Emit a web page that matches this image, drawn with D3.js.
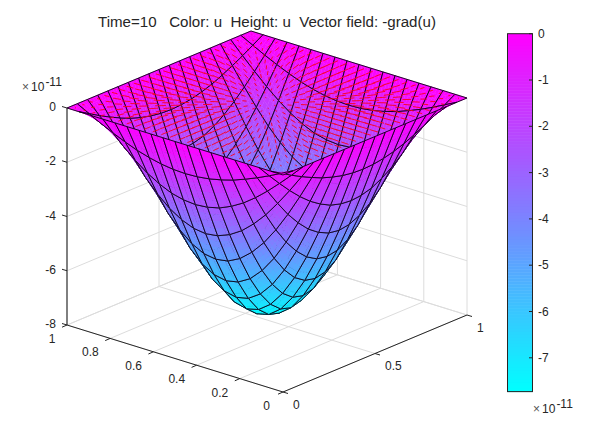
<!DOCTYPE html>
<html><head><meta charset="utf-8">
<script src="https://cdn.jsdelivr.net/npm/d3@7"></script>
<style>html,body{margin:0;padding:0;background:#fff}svg{display:block}text{font-family:"Liberation Sans",Arial,sans-serif;fill:#262626;white-space:pre}</style>
</head><body><svg id="c" width="609" height="440"></svg>
<script>
const titleText = "Time=10   Color: u  Height: u  Vector field: -grad(u)";
const xTicks = [0, 0.5, 1];
const yTicks = [0, 0.2, 0.4, 0.6, 0.8, 1];
const zTicks = [0, -2, -4, -6, -8];
const barTicks = [0, -1, -2, -3, -4, -5, -6, -7];
const uMin = -7.73;
const row0 = [0,0,0,0,0,0,0,0,0,0,0,0,0,0,0,0,0,0,0];
const row1 = [0,-.23,-.46,-.67,-.86,-1.03,-1.16,-1.26,-1.32,-1.34,-1.32,-1.26,-1.16,-1.03,-.86,-.67,-.46,-.23,0];
const row2 = [0,-.46,-.90,-1.32,-1.70,-2.03,-2.29,-2.49,-2.60,-2.64,-2.60,-2.49,-2.29,-2.03,-1.70,-1.32,-.90,-.46,0];
const row3 = [0,-.67,-1.32,-1.93,-2.49,-2.96,-3.35,-3.63,-3.81,-3.87,-3.81,-3.63,-3.35,-2.96,-2.49,-1.93,-1.32,-.67,0];
const row4 = [0,-.86,-1.70,-2.49,-3.20,-3.81,-4.30,-4.67,-4.90,-4.97,-4.90,-4.67,-4.30,-3.81,-3.20,-2.49,-1.70,-.86,0];
const row5 = [0,-1.03,-2.03,-2.96,-3.81,-4.54,-5.13,-5.57,-5.83,-5.92,-5.83,-5.57,-5.13,-4.54,-3.81,-2.96,-2.03,-1.03,0];
const row6 = [0,-1.16,-2.29,-3.35,-4.30,-5.13,-5.80,-6.29,-6.59,-6.69,-6.59,-6.29,-5.80,-5.13,-4.30,-3.35,-2.29,-1.16,0];
const row7 = [0,-1.26,-2.49,-3.63,-4.67,-5.57,-6.29,-6.83,-7.16,-7.27,-7.16,-6.83,-6.29,-5.57,-4.67,-3.63,-2.49,-1.26,0];
const row8 = [0,-1.32,-2.60,-3.81,-4.90,-5.83,-6.59,-7.16,-7.50,-7.61,-7.50,-7.16,-6.59,-5.83,-4.90,-3.81,-2.60,-1.32,0];
const row9 = [0,-1.34,-2.64,-3.87,-4.97,-5.92,-6.69,-7.27,-7.61,-7.73,-7.61,-7.27,-6.69,-5.92,-4.97,-3.87,-2.64,-1.34,0];
const uGrid = [row0,row1,row2,row3,row4,row5,row6,row7,row8,row9,row8,row7,row6,row5,row4,row3,row2,row1,row0];
const n = uGrid.length-1;

const svg = d3.select("#c");
const xPx = d3.scaleLinear().domain([0,1]).range([0,184]);
const xPy = d3.scaleLinear().domain([0,1]).range([0,-77]);
const yPx = d3.scaleLinear().domain([0,1]).range([0,-216]);
const yPy = d3.scaleLinear().domain([0,1]).range([0,-67]);
const zP = d3.scaleLinear().domain([-8,0]).range([0,-217]);
const color = d3.scaleLinear().domain([uMin,0]).range(["#00ffff","#ff00ff"]);
const px = (x,y)=>283+xPx(x)+yPx(y);
const py = (x,y,z)=>392+xPy(x)+yPy(y)+zP(z);
const P = (x,y,z)=>[px(x,y),py(x,y,z)];
const line = (a,b,col,w)=>svg.append("line").attr("x1",a[0]).attr("y1",a[1]).attr("x2",b[0]).attr("y2",b[1]).attr("stroke",col).attr("stroke-width",w);

const GRID="#dcdcdc";
yTicks.forEach(t=>line(P(0,t,-8),P(1,t,-8),GRID,1));
xTicks.forEach(t=>line(P(t,0,-8),P(t,1,-8),GRID,1));
zTicks.forEach(t=>{line(P(0,1,t),P(1,1,t),GRID,1);line(P(1,1,t),P(1,0,t),GRID,1);});
xTicks.forEach(t=>line(P(t,1,-8),P(t,1,0),GRID,1));
yTicks.forEach(t=>line(P(1,t,-8),P(1,t,0),GRID,1));

const quads=[];
for(let i=0;i<n;i++)for(let j=0;j<n;j++){
  const z=[uGrid[i][j],uGrid[i+1][j],uGrid[i+1][j+1],uGrid[i][j+1]];
  const xa=i/n,xb=(i+1)/n,ya=j/n,yb=(j+1)/n;
  const m=d3.mean(z);
  quads.push({i,j,xa,xb,ya,yb,z,far:200*(xa+xb)/2+174*(ya+yb)/2-10.4*m});
}
quads.sort((a,b)=>b.far-a.far);
const sub=4, g=svg.append("g");
const bil=(q,s,t)=>{const c=q.z;return c[0]*(1-s)*(1-t)+c[1]*s*(1-t)+c[2]*s*t+c[3]*(1-s)*t;};
const pt=(q,s,t)=>P(q.xa+(q.xb-q.xa)*s,q.ya+(q.yb-q.ya)*t,bil(q,s,t));
quads.forEach(q=>{
  for(let a=0;a<sub;a++)for(let b=0;b<sub;b++){
    const s0=a/sub,s1=(a+1)/sub,t0=b/sub,t1=(b+1)/sub;
    const pts=[pt(q,s0,t0),pt(q,s1,t0),pt(q,s1,t1),pt(q,s0,t1)];
    const col=color(bil(q,(s0+s1)/2,(t0+t1)/2));
    g.append("path").attr("d","M"+pts.join("L")+"Z").attr("fill",col).attr("stroke",col).attr("stroke-width",.4);
  }
  const o=[P(q.xa,q.ya,q.z[0]),P(q.xb,q.ya,q.z[1]),P(q.xb,q.yb,q.z[2]),P(q.xa,q.yb,q.z[3])];
  g.append("path").attr("d","M"+o.join("L")+"Z").attr("fill","none").attr("stroke","#0a0014").attr("stroke-width",.9);
});

// -grad(u) arrows on the plane u = 0, differenced from the table above
const uAt=(x,y)=>{const cx=Math.max(0,Math.min(1,x))*n,cy=Math.max(0,Math.min(1,y))*n;
  const i=Math.min(n-1,Math.floor(cx)),j=Math.min(n-1,Math.floor(cy)),s=cx-i,t=cy-j;
  return uGrid[i][j]*(1-s)*(1-t)+uGrid[i+1][j]*s*(1-t)+uGrid[i+1][j+1]*s*t+uGrid[i][j+1]*(1-s)*t;};
const arrowCells=25, arrowScale=0.0023, h=1/n;
const ag=svg.append("g").attr("stroke","#ff0018").attr("stroke-width",1).attr("fill","none").attr("opacity",.9);
d3.range(arrowCells).forEach(i=>d3.range(arrowCells).forEach(j=>{
  const xc=(i+.5)/arrowCells,yc=(j+.5)/arrowCells;
  const gx=(uAt(xc+h,yc)-uAt(xc-h,yc))/(2*h), gy=(uAt(xc,yc+h)-uAt(xc,yc-h))/(2*h);
  const a=P(xc,yc,0),b=P(xc-gx*arrowScale,yc-gy*arrowScale,0);
  ag.append("path").attr("d","M"+a+"L"+b);
}));

const AX="#262626";
line(P(0,1,0),P(0,1,-8),AX,1.1);
line(P(0,0,-8),P(1,0,-8),AX,1);
line(P(0,0,-8),P(0,1,-8),AX,1);
xTicks.forEach(t=>{const a=P(t,0,-8);line(a,[a[0]+5,a[1]+1.5],AX,1);});
yTicks.forEach(t=>{const a=P(0,t,-8);line(a,[a[0]-5,a[1]+2.2],AX,1);});
zTicks.forEach(t=>{const a=P(0,1,t);line(a,[a[0]-5,a[1]-1.5],AX,1);});

const label=(x,y,s,anchor)=>svg.append("text").attr("x",x).attr("y",y).attr("text-anchor",anchor||"middle").attr("dominant-baseline","central").attr("font-size",12).text(s);
xTicks.forEach(t=>{const a=P(t,0,-8);label(a[0]+10,a[1]+12.5,String(t),"start");});
yTicks.forEach(t=>{const a=P(0,t,-8);label(a[0]-(t===0?13:11.5),a[1]+14,String(t),"end");});
zTicks.forEach(t=>{const a=P(0,1,t);label(56,a[1]-1,String(t),"end");});

const expo=(x,y)=>{const e=svg.append("text").attr("x",x).attr("y",y).attr("font-size",12);
  e.append("tspan").attr("fill","#555").text("×");e.append("tspan").attr("dx",2).text("10");e.append("tspan").attr("dx",1).attr("dy",-5).text("-11");};
expo(22,91);expo(533,413);

svg.append("text").attr("x",267).attr("y",21).attr("text-anchor","middle").attr("dominant-baseline","central").attr("font-size",15.1).text(titleText);

const barY=d3.scaleLinear().domain([0,-1]).range([33.7,80]);
const barX0=507.5,barX1=532.5,bottom=barY(uMin);
d3.range(0,120).forEach(k=>{
  const v=uMin*k/120,v2=uMin*(k+1)/120;
  svg.append("rect").attr("x",barX0).attr("width",barX1-barX0).attr("y",barY(v)).attr("height",barY(v2)-barY(v)+.5).attr("fill",color((v+v2)/2));
});
svg.append("rect").attr("x",barX0).attr("y",barY(0)).attr("width",barX1-barX0).attr("height",bottom-barY(0)).attr("fill","none").attr("stroke",AX).attr("stroke-width",1);
barTicks.forEach(t=>{line([barX1-3.5,barY(t)],[barX1,barY(t)],AX,1);label(538,barY(t),String(t),"start");});
</script></body></html>
